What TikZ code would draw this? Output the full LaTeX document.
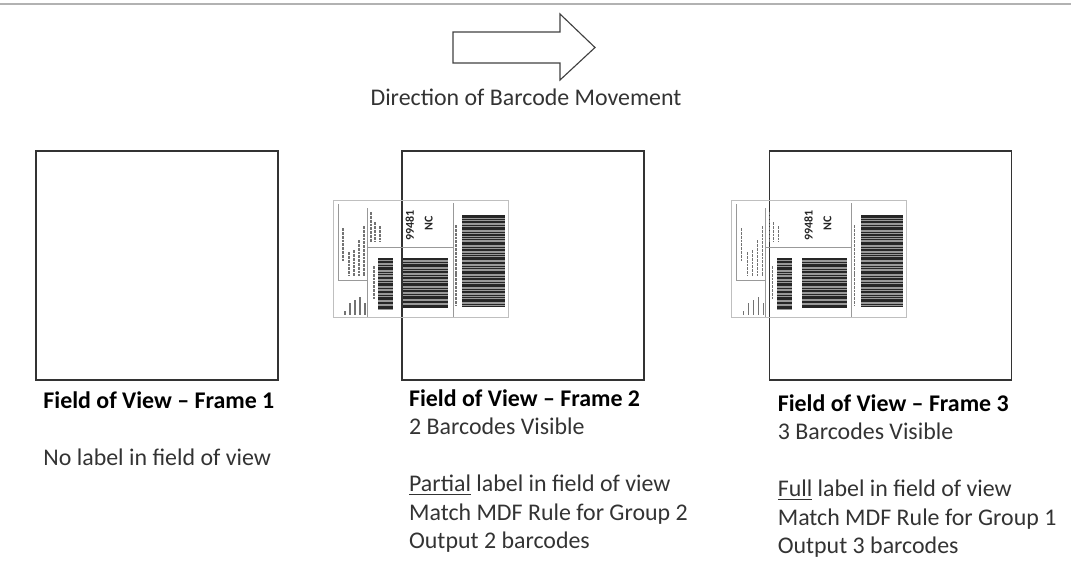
\documentclass[tikz,border=0pt]{standalone}
\usepackage{fontspec}
\setmainfont{Carlito}
\usepackage{tikz}
\usetikzlibrary{positioning}

\begin{document}
\begin{tikzpicture}[
    fovbox/.style={rectangle, draw=black!80, line width=1.2pt, minimum width=6.05cm, minimum height=5.725cm, inner sep=0pt},
    caption/.style={align=left, inner sep=0pt, anchor=base west, text=black!80, font=\fontsize{17}{20.3}\selectfont},
    bararea/.style={fill=black!40},
    thinrule/.style={draw=black!40, line width=0.4pt},
    tinytext/.style={draw=black!55, line width=1.1pt, dash pattern=on 2pt off 0.7pt},
    shiplabel/.pic={
        \begin{scope}[x=0.025cm, y=-0.025cm]
        % outline and dividers
        \draw[black!25, line width=0.4pt] (0,0) rectangle (175,117);
        \draw[thinrule] (5,4) -- (5,80) -- (34,80);
        \draw[thinrule] (34,8) -- (34,117);
        \draw[thinrule] (34,47) -- (120,47);
        \draw[thinrule] (120,3) -- (120,117);
        % small print
        \foreach \x/\a/\b in {10/28/62, 16/52/76, 21/50/76, 26/40/76, 31/26/76, 38/12/42, 42/22/42, 47/26/42, 41/66/100, 123/25/105}
            \draw[tinytext] (\x,\a) -- (\x,\b);
        \foreach \x/\a in {12/111, 17/103, 22/100, 27/97, 32/103}
            \draw[black!55, line width=1.1pt] (\x,\a) -- (\x,115);
        % ID
        \node[rotate=90, inner sep=0pt, text=black!85, font=\fontsize{8.5}{8.5}\selectfont\bfseries] at (77,25) {99481};
        \node[rotate=90, inner sep=0pt, text=black!85, font=\fontsize{8.5}{8.5}\selectfont\bfseries] at (96,23) {NC};
        % barcodes
        \fill[bararea] (45,58) rectangle (60,110);
        \foreach \y/\h in {0/2, 3/2, 7/1, 9/3, 14/1, 16/1, 19/2, 23/1, 25/3, 30/1, 33/2, 37/1, 39/3, 44/2, 48/3}
            \fill[black!85] (45,58+\y) rectangle (60,58+\y+\h);
        \fill[bararea] (70,58) rectangle (115,108);
        \foreach \y/\h in {0/2, 4/1, 6/3, 11/1, 13/2, 17/1, 19/2, 23/1, 25/3, 30/1, 32/2, 36/1, 38/3, 43/2, 47/3}
            \fill[black!85] (70,58+\y) rectangle (115,58+\y+\h);
        \fill[bararea] (129,15) rectangle (172,107);
        \foreach \y/\h in {0/3, 4/1, 6/2, 10/1, 12/3, 17/1, 19/2, 22/1, 24/1, 27/3, 32/1, 34/2, 38/1, 40/1, 42/3, 47/2, 51/1, 53/1, 56/3, 61/1, 63/2, 67/1, 69/3, 74/1, 76/2, 80/1, 82/1, 84/3, 89/1, 91/1}
            \fill[black!85] (129,15+\y) rectangle (172,15+\y+\h);
        \end{scope}
    }
]
\useasboundingbox (0,0) rectangle (26.775,-14.175);

% top rule
\draw[black!30, line width=1pt] (0,-0.1) -- (26.775,-0.1);

% direction arrow
\draw[black!75, line width=0.8pt] (11.325,-0.8) -- (14.0,-0.8) -- (14.0,-0.35) -- (14.875,-1.1875) -- (14.0,-2.0) -- (14.0,-1.575) -- (11.325,-1.575) -- cycle;
\node[text=black!80, font=\fontsize{17}{20.3}\selectfont, inner sep=0pt] (dir) at (13.15,-2.425) {Direction of Barcode Movement};

% fields of view
\node[fovbox] (fov1) at (3.925,-6.6375) {};
\node[fovbox, right=3.05cm of fov1] (fov2) {};
\node[fovbox, right=3.1cm of fov2] (fov3) {};

% labels passing through
\pic at ([shift={(-1.7,-1.25)}]fov2.north west) {shiplabel};
\pic at ([shift={(-0.925,-1.25)}]fov3.north west) {shiplabel};

% captions (base = last line)
\node[caption] (cap1) at ([shift={(0.2,-2.125)}]fov1.south west)
    {\textcolor{black}{\bfseries Field of View -- Frame 1}\\[20.3pt]
     No label in field of view};
\node[caption] (cap2) at ([shift={(0.2,-4.2)}]fov2.south west)
    {\textcolor{black}{\bfseries Field of View -- Frame 2}\\
     2 Barcodes Visible\\[20.3pt]
     \underline{Partial} label in field of view\\
     Match MDF Rule for Group 2\\
     Output 2 barcodes};
\node[caption] (cap3) at ([shift={(0.225,-4.325)}]fov3.south west)
    {\textcolor{black}{\bfseries Field of View -- Frame 3}\\
     3 Barcodes Visible\\[20.3pt]
     \underline{Full} label in field of view\\
     Match MDF Rule for Group 1\\
     Output 3 barcodes};
\end{tikzpicture}
\end{document}
